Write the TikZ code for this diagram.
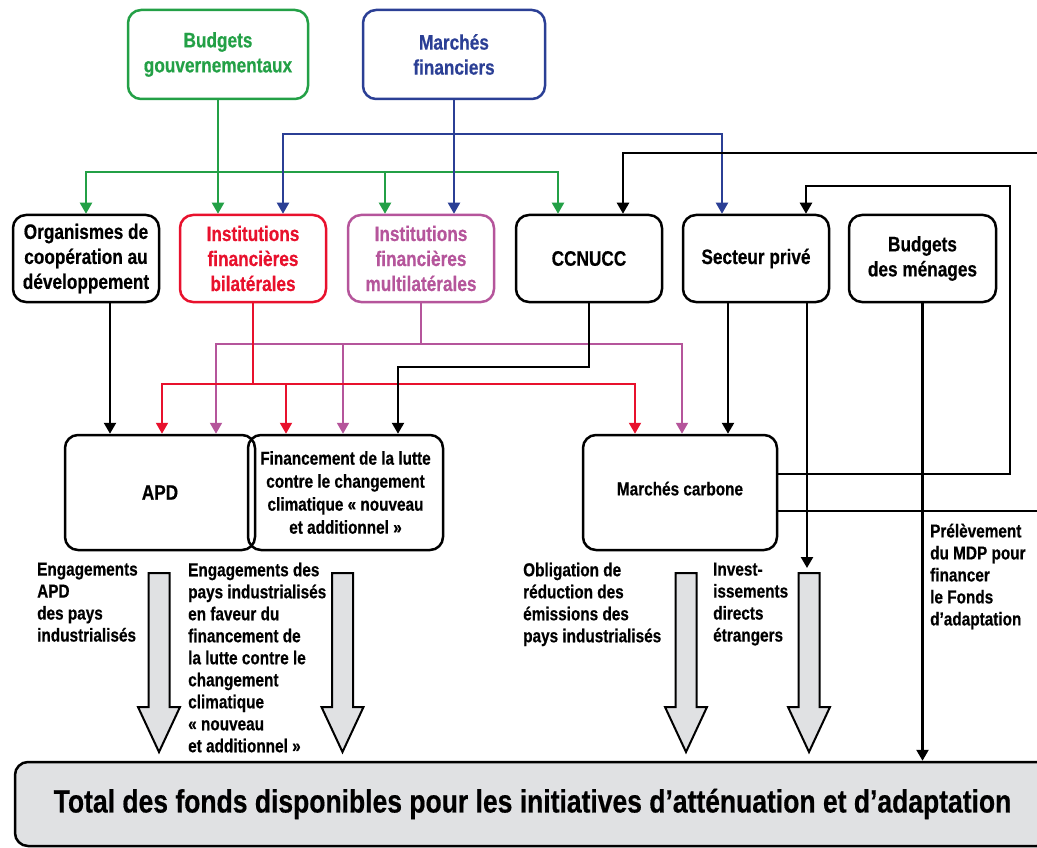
\documentclass[tikz,border=0pt]{standalone}
\usepackage{fontspec}
\setmainfont{Liberation Sans}[FakeStretch=0.82, BoldFeatures={FakeBold=0.5}]
\usetikzlibrary{arrows.meta}
\definecolor{cgreen}{HTML}{23A046}
\definecolor{cblue}{HTML}{2B3F95}
\definecolor{cred}{HTML}{E8112D}
\definecolor{cpink}{HTML}{B5559B}
\definecolor{cgray}{HTML}{E0E1E3}
\begin{document}
\begin{tikzpicture}[x=1pt,y=-1pt,
  fbig/.style={font=\bfseries\fontsize{21}{25}\selectfont},
  fmid/.style={font=\bfseries\fontsize{18.7}{23}\selectfont},
  fsmall/.style={font=\bfseries\fontsize{18.7}{22}\selectfont},
  box/.style={draw, line width=2.5pt, rounded corners=13pt, align=center,
    minimum width=146pt, minimum height=87pt, inner sep=2pt},
  lbl/.style={fsmall, anchor=north west, align=left, inner sep=0pt},
  tip/.style={-{Triangle[width=12pt,length=11pt]}},
  cline/.style={line width=2pt},
  kline/.style={line width=2.4pt, black},
  barrow/.pic={\draw[line width=2pt, fill=cgray, line join=miter]
     (-10.5,0) -- (10.5,0) -- (10.5,134) -- (21,134) -- (0,179) -- (-21,134) -- (-10.5,134) -- cycle;}
]
\useasboundingbox (0,0) rectangle (1037,848);
\clip (0,0) rectangle (1037,848);

% top sources
\node[box, fbig, cgreen, minimum width=180pt, minimum height=89pt] (bg) at (218,54.5) {Budgets\\gouvernementaux};
\node[box, fbig, cblue, minimum width=182pt, minimum height=89pt] (mf) at (454,54.5) {Marchés\\financiers};

% second row
\node[box, fbig] (org) at (86,258.5) {Organismes de\\coopération au\\développement};
\node[box, fbig, cred] (ifb) at (253,258.5) {Institutions\\financières\\bilatérales};
\node[box, fbig, cpink] (ifm) at (421,258.5) {Institutions\\financières\\multilatérales};
\node[box, fbig] (ccnucc) at (589,258.5) {CCNUCC};
\node[box, fbig] (sp) at (756,258.5) {Secteur privé};
\node[box, fbig, minimum width=147pt] (bm) at (922.5,258.5) {Budgets\\des ménages};

% third row
\node[box, fbig, minimum width=190pt, minimum height=115pt] (apd) at (160,492.5) {APD};
\node[box, fmid, minimum width=195pt, minimum height=115pt] (fin) at (345.5,492.5) {Financement de la lutte\\contre le changement\\climatique « nouveau\\et additionnel »};
\node[box, fmid, minimum width=194pt, minimum height=115pt, text depth=8pt] (mc) at (680,492.5) {Marchés carbone};

% total
\node[draw, line width=2.5pt, rounded corners=13pt, fill=cgray, minimum width=1035pt, minimum height=84pt,
  font=\bfseries\fontsize{32.3}{36}\selectfont] (total) at (532.5,804) {Total des fonds disponibles pour les initiatives d’atténuation et d’adaptation};

% green connectors
\coordinate (gh) at (218,172);
\draw[cline, cgreen, tip] (bg.south) -- (bg.south |- ifb.north);
\draw[cline, cgreen, tip] (gh) -| (org.north);
\draw[cline, cgreen, tip] (gh) -| ([xshift=-36pt]ifm.north);
\draw[cline, cgreen, tip] (gh) -| ([xshift=-31pt]ccnucc.north);

% blue connectors
\coordinate (bh) at (454,134);
\draw[cline, cblue, tip] (mf.south) -- (mf.south |- ifm.north);
\draw[cline, cblue, tip] (bh) -| ([xshift=30pt]ifb.north);
\draw[cline, cblue, tip] (bh) -| ([xshift=-34pt]sp.north);

% pink connectors
\coordinate (ph) at (421,344);
\draw[cline, cpink] (ifm.south) -- (ph);
\draw[cline, cpink, tip] (ph) -| ([xshift=56pt]apd.north);
\draw[cline, cpink, tip] (ph) -| ([xshift=-2.5pt]fin.north);
\draw[cline, cpink, tip] (ph) -| ([xshift=2pt]mc.north);

% red connectors
\coordinate (rh) at (253,384);
\draw[cline, cred] (ifb.south) -- (rh);
\draw[cline, cred, tip] (rh) -| ([xshift=2pt]apd.north);
\draw[cline, cred, tip] (rh) -| ([xshift=-59.5pt]fin.north);
\draw[cline, cred, tip] (rh) -| ([xshift=-45pt]mc.north);

% black connectors
\coordinate (ch) at (589,367);
\coordinate (rt1) at (1037,153);
\coordinate (loop) at (1010,186);
\coordinate (rt2) at (1037,511);
\coordinate (fdi) at (807,568);
\draw[kline, tip] ([xshift=24pt]org.south) -- ([xshift=24pt]org.south |- apd.north);
\draw[kline, tip] (ccnucc.south) -- (ch) -| ([xshift=52.5pt]fin.north);
\draw[kline, tip] (rt1) -| ([xshift=34pt]ccnucc.north);
\draw[kline, tip] ([xshift=-28pt]sp.south) -- ([xshift=-28pt]sp.south |- mc.north);
\draw[kline, tip] ([yshift=18.5pt]mc.east) -| (loop) -| ([xshift=50pt]sp.north);
\draw[kline] (rt2 -| mc.east) -- (rt2);
\draw[kline, tip] ([xshift=51pt]sp.south) -- (fdi);
\draw[kline, tip] (bm.south) -- (bm.south |- total.north);

% block arrows
\pic at (159,573) {barrow};
\pic at (342.5,573) {barrow};
\pic at (686,573) {barrow};
\pic at (809,573) {barrow};

% labels
\node[lbl] (l1) at (37,562.5) {Engagements\\APD\\des pays\\industrialisés};
\node[lbl] (l2) at (188,562.5) {Engagements des\\pays industrialisés\\en faveur du\\financement de\\la lutte contre le\\changement\\climatique\\« nouveau\\et additionnel »};
\node[lbl] (l3) at (523,562.5) {Obligation de\\réduction des\\émissions des\\pays industrialisés};
\node[lbl] (l4) at (713,562.5) {Invest-\\issements\\directs\\étrangers};
\node[lbl] (l5) at (930,523.5) {Prélèvement\\du MDP pour\\financer\\le Fonds\\d’adaptation};
\end{tikzpicture}
\end{document}
